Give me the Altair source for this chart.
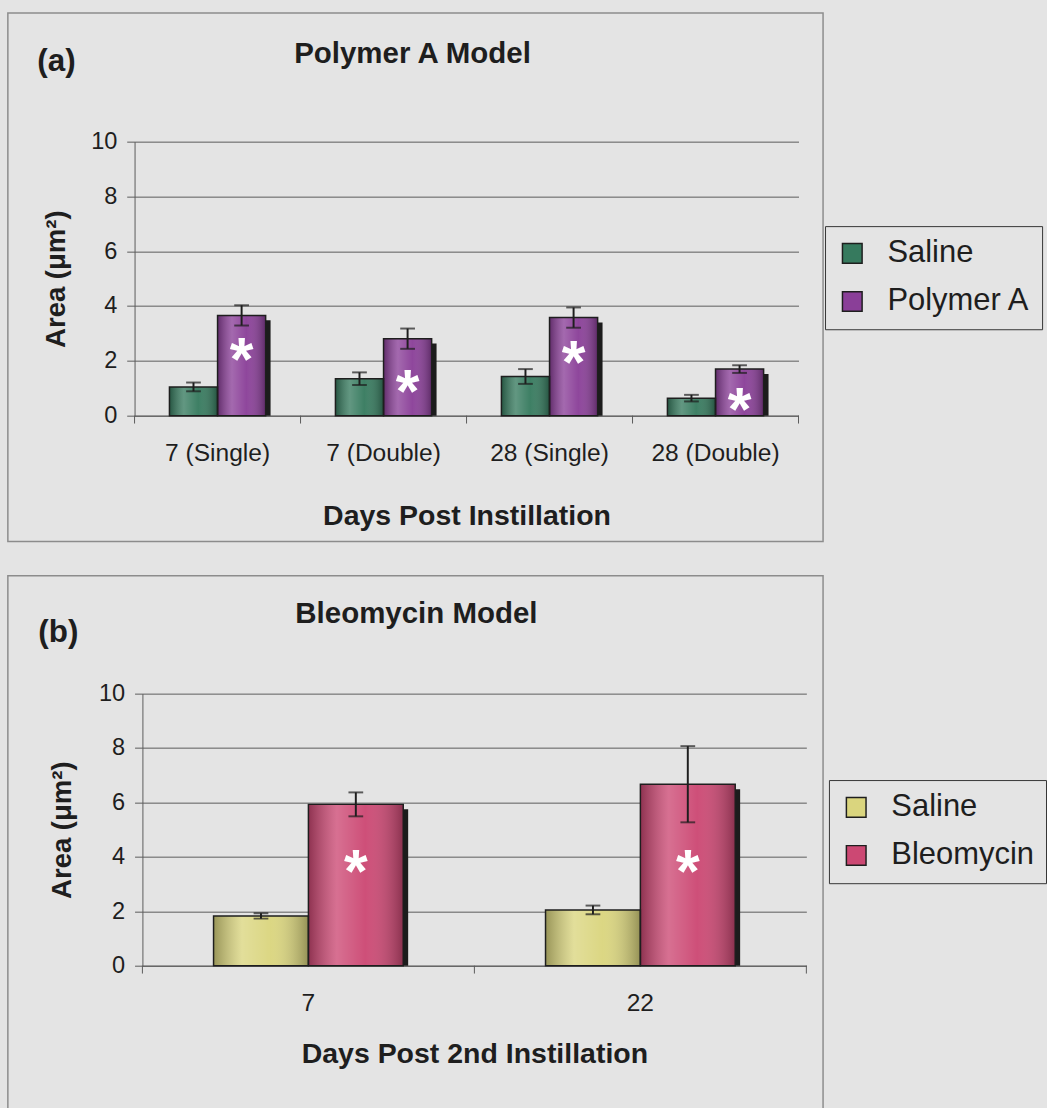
import altair as alt
import pandas as pd

FONT = "Liberation Sans"
BG = "#e4e4e4"
INK = "#1e1e1e"
AXIS = "#5a5a5a"

# ---- Panel (a): Polymer A model -------------------------------------------
a_days = ["7 (Single)", "7 (Double)", "28 (Single)", "28 (Double)"]
a_groups = ["Saline", "Polymer A"]
a_saline = [1.05, 1.35, 1.43, 0.64]
a_saline_sem = [0.16, 0.23, 0.27, 0.12]
a_polymer = [3.66, 2.81, 3.58, 1.70]
a_polymer_sem = [0.37, 0.37, 0.37, 0.14]
a_star_y = [2.55, 1.40, 2.45, 0.75]
a_colors = ["#367a5e", "#8a3f98"]

# ---- Panel (b): Bleomycin model -------------------------------------------
b_days = ["7", "22"]
b_groups = ["Saline", "Bleomycin"]
b_saline = [1.83, 2.05]
b_saline_sem = [0.10, 0.16]
b_bleo = [5.93, 6.67]
b_bleo_sem = [0.44, 1.40]
b_star_y = [3.98, 3.98]
b_colors = ["#dad57e", "#cc4873"]

y_ticks = [0, 2, 4, 6, 8, 10]
y_title = "Area (μm²)"

# drop shadow: starts a little below each bar top (data units), shifted right (px)
SHADOW_DROP = 0.18
SHADOW_SHIFT = 5

gloss = alt.LinearGradient(
    gradient="linear", x1=0, x2=1, y1=0, y2=0,
    stops=[
        alt.GradientStop(color="rgba(0,0,0,0.30)", offset=0),
        alt.GradientStop(color="rgba(255,255,255,0.22)", offset=0.3),
        alt.GradientStop(color="rgba(255,255,255,0.04)", offset=0.6),
        alt.GradientStop(color="rgba(0,0,0,0.32)", offset=1),
    ],
)


def panel(days, groups, means, sems, star_y, colors, tag, heading, x_title, lay):
    rows = []
    for g, m_list, s_list in zip(groups, means, sems):
        for d, m, s in zip(days, m_list, s_list):
            rows.append({"day": d, "group": g, "mean": m, "lo": m - s, "hi": m + s})
    df = pd.DataFrame(rows)
    stars = pd.DataFrame({"day": days, "group": [groups[1]] * len(days), "pos": star_y})

    shift = lay["shift"]
    w = lay["plot_w"] + shift
    h = lay["height"]
    band = lay["plot_w"] / len(days)

    x_scale = alt.Scale(type="band", domain=days, range=[shift, w], paddingInner=0, paddingOuter=0)
    x_axis = alt.Axis(
        title=x_title, labelAngle=0, ticks=False, tickSize=0, grid=False,
        domainColor=AXIS, domainWidth=1,
        labelFont=FONT, labelFontSize=25, labelColor=INK,
        labelPadding=46, labelBaseline="alphabetic",
        titleFont=FONT, titleFontSize=29, titleFontWeight="bold", titleColor=INK,
        titleY=lay["xtitle_y"], titleBaseline="alphabetic",
    )
    y_scale = alt.Scale(domain=[0, 10], nice=False)
    y_axis = alt.Axis(
        title=y_title, values=y_ticks, grid=True, gridColor=AXIS, gridWidth=1,
        offset=-shift,
        domainColor=AXIS, tickColor=AXIS, tickSize=8, labelPadding=10,
        labelFont=FONT, labelFontSize=24, labelColor=INK,
        titleFont=FONT, titleFontSize=28, titleFontWeight="bold", titleColor=INK,
        titleAngle=270, titleAlign="center", titleBaseline="middle",
        titleX=lay["ytitle_x"], titleY=h / 2,
    )
    xo_scale = alt.Scale(type="band", domain=groups, paddingInner=0, paddingOuter=lay["pad"],
                         range=[0, band])
    xo_shadow = alt.Scale(type="band", domain=groups, paddingInner=0, paddingOuter=lay["pad"],
                          range=[SHADOW_SHIFT, band + SHADOW_SHIFT])

    X = alt.X("day:N", scale=x_scale, axis=x_axis)
    XO = alt.XOffset("group:N", scale=xo_scale)

    def Y(field):
        return alt.Y(field, scale=y_scale, axis=y_axis)

    base = alt.Chart(df)

    legend = alt.Legend(
        title=None, orient="none", legendX=lay["legend_x"], legendY=lay["legend_y"],
        symbolType="square", symbolSize=400, symbolStrokeColor=INK,
        symbolStrokeWidth=1.5, symbolOpacity=1,
        labelFont=FONT, labelFontSize=31.5, labelColor=INK, labelOffset=20,
        rowPadding=16, padding=12, fillColor=BG, strokeColor="#333333",
    )

    shadow = base.transform_calculate(
        drop=f"datum.mean - {SHADOW_DROP}"
    ).mark_bar(color="#1c1c1c").encode(
        x=X, xOffset=alt.XOffset("group:N", scale=xo_shadow), y=Y("drop:Q"))
    bars = base.mark_bar(strokeWidth=0).encode(
        x=X, xOffset=XO, y=Y("mean:Q"),
        color=alt.Color("group:N", scale=alt.Scale(domain=groups, range=colors), legend=legend),
    )
    shine = base.mark_bar(fill=gloss, stroke=INK, strokeWidth=1.5).encode(
        x=X, xOffset=XO, y=Y("mean:Q"))

    # x-axis tick marks sit on the category boundaries
    edge_ticks = alt.Chart(pd.DataFrame({"day": days})).mark_rule(color=AXIS).encode(
        x=alt.X("day:N", scale=x_scale, axis=x_axis, bandPosition=0),
        y=alt.value(h), y2=alt.value(h + 8))
    end_tick = alt.Chart(pd.DataFrame({"day": days[-1:]})).mark_rule(color=AXIS).encode(
        x=alt.X("day:N", scale=x_scale, axis=x_axis, bandPosition=1),
        y=alt.value(h), y2=alt.value(h + 8))

    err = base.mark_rule(color=INK, strokeWidth=2).encode(
        x=X, xOffset=XO, y=Y("lo:Q"), y2="hi:Q")
    cap_hi = base.mark_tick(color=INK, thickness=2, size=15, orient="horizontal").encode(
        x=X, xOffset=XO, y=Y("hi:Q"))
    cap_lo = base.mark_tick(color=INK, thickness=2, size=15, orient="horizontal").encode(
        x=X, xOffset=XO, y=Y("lo:Q"))

    star = alt.Chart(stars).mark_text(
        text="*", font=FONT, fontSize=62, fontWeight="bold", color="#ffffff",
        baseline="alphabetic", dy=35,
    ).encode(x=X, xOffset=XO, y=Y("pos:Q"))

    f = lay["frame"]
    frame = alt.Chart(pd.DataFrame({"k": [0]})).mark_rect(
        fill="transparent", stroke="#8c8c8c", strokeWidth=1.5,
    ).encode(x=alt.value(f[0]), x2=alt.value(f[1]), y=alt.value(f[2]), y2=alt.value(f[3]))

    head = alt.Chart(pd.DataFrame({"label": [heading]})).mark_text(
        font=FONT, fontSize=30, fontWeight="bold", color=INK, align="center", baseline="alphabetic",
    ).encode(text="label:N", x=alt.value(lay["head"][0]), y=alt.value(lay["head"][1]))
    tag_mark = alt.Chart(pd.DataFrame({"label": [tag]})).mark_text(
        font=FONT, fontSize=32, fontWeight="bold", color=INK, align="left", baseline="alphabetic",
    ).encode(text="label:N", x=alt.value(lay["tag"][0]), y=alt.value(lay["tag"][1]))

    return alt.layer(
        frame, shadow, bars, shine, edge_ticks, end_tick,
        err, cap_hi, cap_lo, star, head, tag_mark,
    ).resolve_scale(xOffset="independent").properties(width=w, height=h)


panel_a = panel(
    a_days, a_groups, [a_saline, a_polymer], [a_saline_sem, a_polymer_sem], a_star_y, a_colors,
    "(a)", "Polymer A Model", "Days Post Instillation",
    dict(plot_w=676, shift=0, height=279, pad=0.725, frame=(-129, 701, -131, 407),
         head=(283, -80), tag=(-99, -72), ytitle_x=-79, xtitle_y=111,
         legend_x=703, legend_y=86),
)
panel_b = panel(
    b_days, b_groups, [b_saline, b_bleo], [b_saline_sem, b_bleo_sem], b_star_y, b_colors,
    "(b)", "Bleomycin Model", "Days Post 2nd Instillation",
    dict(plot_w=676, shift=8, height=277, pad=0.75, frame=(-129, 701, -120, 430),
         head=(287, -72), tag=(-98, -53), ytitle_x=-81, xtitle_y=99,
         legend_x=707, legend_y=88),
)

chart = (
    alt.vconcat(panel_a, panel_b, spacing=33)
    .resolve_scale(color="independent", x="independent", y="independent", xOffset="independent")
    .configure(font=FONT, background=BG, padding={"left": 7, "top": 2, "right": 0, "bottom": 0})
    .configure_view(strokeWidth=0)
)

chart.save("out.html", embed_options={"renderer": "svg", "actions": False})
